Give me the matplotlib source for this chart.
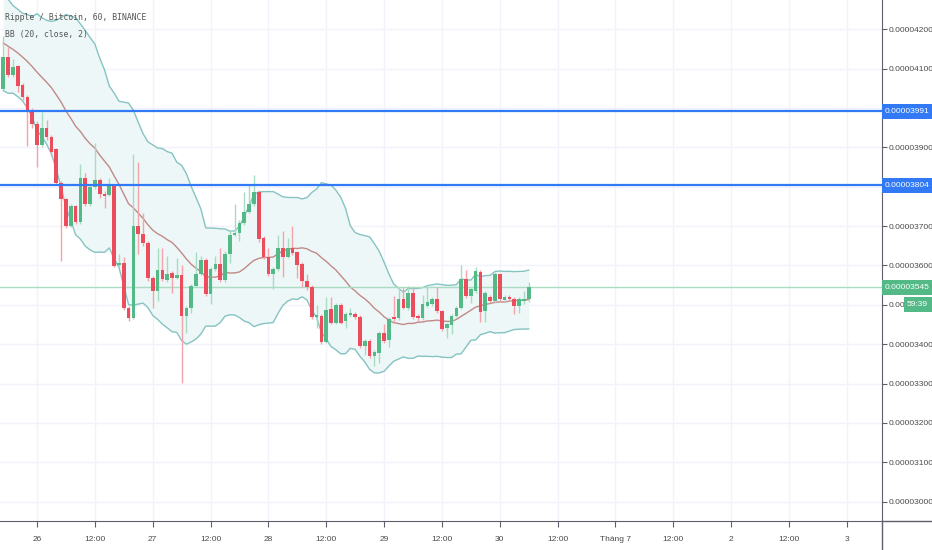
import numpy as np
import pandas as pd
import matplotlib
matplotlib.use("Agg")
from matplotlib import pyplot as plt
from matplotlib.lines import Line2D
from matplotlib.patches import Rectangle

# Daten (Preise in Satoshi, 1e-8 BTC), Stundenkerzen ab 25.06. 17:00
opens = [4048, 4129, 4083, 4106, 4057, 4027, 3994, 3960, 3905, 3948,
         3927, 3895, 3810, 3769, 3701, 3750, 3709, 3823, 3757, 3800,
         3818, 3782, 3780, 3803, 3600, 3606, 3492, 3467, 3701, 3680,
         3658, 3568, 3535, 3589, 3563, 3581, 3568, 3576, 3471, 3492,
         3548, 3579, 3614, 3527, 3591, 3604, 3563, 3630, 3678, 3683,
         3708, 3736, 3756, 3787, 3670, 3621, 3578, 3590, 3645, 3622,
         3645, 3633, 3604, 3560, 3546, 3469, 3472, 3405, 3490, 3455,
         3500, 3458, 3474, 3477, 3469, 3395, 3408, 3370, 3378, 3429,
         3411, 3469, 3466, 3514, 3493, 3529, 3471, 3466, 3498, 3502,
         3514, 3484, 3440, 3448, 3472, 3493, 3565, 3522, 3535, 3583,
         3484, 3520, 3510, 3578, 3512, 3520, 3516, 3497, 3510, 3514]
closes = [4129, 4083, 4103, 4055, 4027, 3994, 3960, 3905, 3948, 3925,
          3887, 3810, 3769, 3701, 3750, 3709, 3823, 3757, 3800, 3818,
          3782, 3777, 3803, 3599, 3605, 3492, 3467, 3701, 3680, 3658,
          3568, 3535, 3589, 3566, 3579, 3568, 3576, 3471, 3492, 3548,
          3579, 3614, 3527, 3591, 3604, 3563, 3630, 3678, 3683, 3708,
          3736, 3756, 3787, 3667, 3621, 3579, 3590, 3643, 3622, 3643,
          3631, 3601, 3560, 3544, 3469, 3473, 3405, 3487, 3455, 3500,
          3455, 3477, 3478, 3469, 3395, 3408, 3370, 3380, 3429, 3408,
          3465, 3465, 3516, 3493, 3529, 3469, 3466, 3501, 3506, 3514,
          3484, 3439, 3450, 3472, 3493, 3565, 3522, 3539, 3586, 3482,
          3529, 3510, 3578, 3514, 3520, 3514, 3497, 3514, 3514, 3545]
highs = [4183, 4155, 4124, 4110, 4062, 4032, 3999, 3966, 3989, 3969,
         3932, 3899, 3815, 3772, 3756, 3754, 3857, 3834, 3806, 3910,
         3823, 3790, 3823, 3808, 3628, 3622, 3496, 3882, 3862, 3732,
         3663, 3572, 3643, 3645, 3625, 3586, 3620, 3600, 3497, 3552,
         3633, 3625, 3618, 3596, 3625, 3643, 3636, 3690, 3757, 3715,
         3786, 3808, 3829, 3792, 3675, 3645, 3595, 3676, 3688, 3670,
         3700, 3637, 3608, 3579, 3550, 3500, 3476, 3520, 3520, 3505,
         3505, 3481, 3492, 3482, 3473, 3412, 3412, 3385, 3434, 3450,
         3470, 3523, 3545, 3545, 3548, 3545, 3476, 3526, 3545, 3520,
         3545, 3488, 3455, 3476, 3498, 3600, 3588, 3544, 3595, 3588,
         3534, 3525, 3584, 3582, 3525, 3524, 3520, 3519, 3535, 3558]
lows = [4045, 4078, 4079, 4040, 4020, 3902, 3950, 3849, 3900, 3918,
        3878, 3805, 3612, 3695, 3698, 3704, 3705, 3752, 3750, 3795,
        3770, 3747, 3776, 3595, 3596, 3488, 3460, 3465, 3630, 3650,
        3560, 3493, 3510, 3560, 3558, 3531, 3565, 3301, 3429, 3480,
        3544, 3575, 3522, 3503, 3587, 3558, 3559, 3607, 3675, 3663,
        3703, 3732, 3752, 3660, 3616, 3572, 3540, 3585, 3570, 3618,
        3626, 3567, 3545, 3538, 3464, 3440, 3400, 3402, 3450, 3451,
        3450, 3440, 3470, 3465, 3390, 3372, 3365, 3345, 3352, 3404,
        3393, 3460, 3462, 3489, 3488, 3465, 3460, 3462, 3494, 3498,
        3480, 3434, 3415, 3425, 3468, 3489, 3518, 3505, 3530, 3457,
        3457, 3505, 3505, 3509, 3508, 3510, 3476, 3480, 3503, 3508]
# Schlusskurse vor dem sichtbaren Bereich (fuer BB-Vorlauf, geschaetzt)
prev_closes = [4250, 4262, 4235, 4240, 4215, 4220, 4190, 4205, 4180, 4165,
               4170, 4140, 4150, 4120, 4110, 4095, 4100, 4075, 4048]

hlines = [3991, 3804]
last_price = 3545
countdown = "59:39"
y_ticks = list(range(3000, 4201, 100))
x_tick_hours = list(range(0, 169, 12))
x_tick_labels = ["26", "12:00", "27", "12:00", "28", "12:00", "29", "12:00",
                 "30", "12:00", "Tháng 7", "12:00", "2", "12:00", "3"]

UP = "#53b987"
DOWN = "#eb4d5c"
BLUE = "#3179f5"
AXC = "#5d606b"
FONT = ["Liberation Sans", "DejaVu Sans"]
FS = 6.0

hours = np.arange(len(closes)) - 7  # Stunden relativ zu 26.06. 00:00

# Bollinger Baender (20, close, 2)
s = pd.Series(prev_closes + closes, dtype=float)
mid = s.rolling(20).mean().values[len(prev_closes):]
sd = s.rolling(20).std(ddof=0).values[len(prev_closes):]
upper = mid + 2 * sd
lower = mid - 2 * sd

W, H = 932, 550
fig = plt.figure(figsize=(W / 100, H / 100), dpi=100)
ax = fig.add_axes([0, 29 / H, 882 / W, 521 / H])

ax.set_xlim(-7.68, 175.3)
ax.set_ylim(2951, 4274)

# Gitter
for h in x_tick_hours:
    ax.axvline(h, color="#f0f3fa", lw=1, zorder=0)
for v in y_ticks:
    ax.axhline(v, color="#f0f3fa", lw=1, zorder=0)

# BB
ax.fill_between(hours, lower, upper, color="#eef7f7", zorder=1, lw=0)
ax.plot(hours, upper, color="#86c3c3", lw=1, zorder=2)
ax.plot(hours, lower, color="#86c3c3", lw=1, zorder=2)
ax.plot(hours, mid, color="#c08a88", lw=1, zorder=2)

# Kerzen
o = np.array(opens)
c = np.array(closes)
up = c >= o
cols = np.where(up, UP, DOWN)
wick_cols = np.where(up, "#a6dcc1", "#f5a3aa")
ax.vlines(hours, lows, highs, colors=wick_cols, lw=1, zorder=3)
body_bottom = np.minimum(o, c)
body_h = np.maximum(np.abs(c - o), 3)
ax.bar(hours, body_h, bottom=body_bottom, width=0.76, color=cols, lw=0, zorder=4)

# Linien
for v in hlines:
    ax.axhline(v, color=BLUE, lw=1.6, zorder=5)
ax.axhline(last_price, color="#a9dcc3", lw=1, zorder=2)

# Achsen
for sp in ["top", "left"]:
    ax.spines[sp].set_visible(False)
ax.spines["right"].set_color(AXC)
ax.spines["bottom"].set_color(AXC)
ax.yaxis.tick_right()
ax.set_yticks(y_ticks)
ylabels = []
for v in y_ticks:
    if v in (4000, 3800):
        ylabels.append("")
    else:
        ylabels.append(f"{v / 1e8:.8f}")
ax.set_yticklabels(ylabels)
ax.set_xticks(x_tick_hours)
ax.set_xticklabels(x_tick_labels)
ax.tick_params(axis="y", length=3.5, color=AXC, labelsize=FS,
               labelcolor="#4a4a4a", pad=1.2)
ax.tick_params(axis="x", length=4, color=AXC, labelsize=FS,
               labelcolor="#4a4a4a", pad=6.5)
for lab in ax.get_yticklabels() + ax.get_xticklabels():
    lab.set_family(FONT)

# Verlaengerte Achslinien
fig.add_artist(Line2D([882 / W, 1], [29 / H, 29 / H], color=AXC, lw=1))
fig.add_artist(Line2D([882 / W, 882 / W], [0, 29 / H], color=AXC, lw=1))


# Preisschilder
def label_box(v, text, color, x0):
    yp = ax.transData.transform((0, v))[1]
    fig.add_artist(Rectangle((x0 / W, (yp - 7.5) / H), (W - x0) / W, 15 / H,
                             transform=fig.transFigure, fc=color, ec="none",
                             zorder=4))
    fig.text((x0 + 2.5) / W, yp / H, text, color="white", fontsize=FS,
             va="center", ha="left", family=FONT, zorder=5)


for v in hlines:
    label_box(v, f"{v / 1e8:.8f}", BLUE, 882)
label_box(last_price, f"{last_price / 1e8:.8f}", UP, 882)
label_box(3500, countdown, UP, 904)

# Legende
fig.text(5 / W, 1 - 18 / H, "Ripple / Bitcoin, 60, BINANCE", fontsize=5.85,
         color="#555555", family="DejaVu Sans Mono", va="center")
fig.text(5 / W, 1 - 35 / H, "BB (20, close, 2)", fontsize=5.85,
         color="#555555", family="DejaVu Sans Mono", va="center")

fig.savefig("out.png", dpi=100)
